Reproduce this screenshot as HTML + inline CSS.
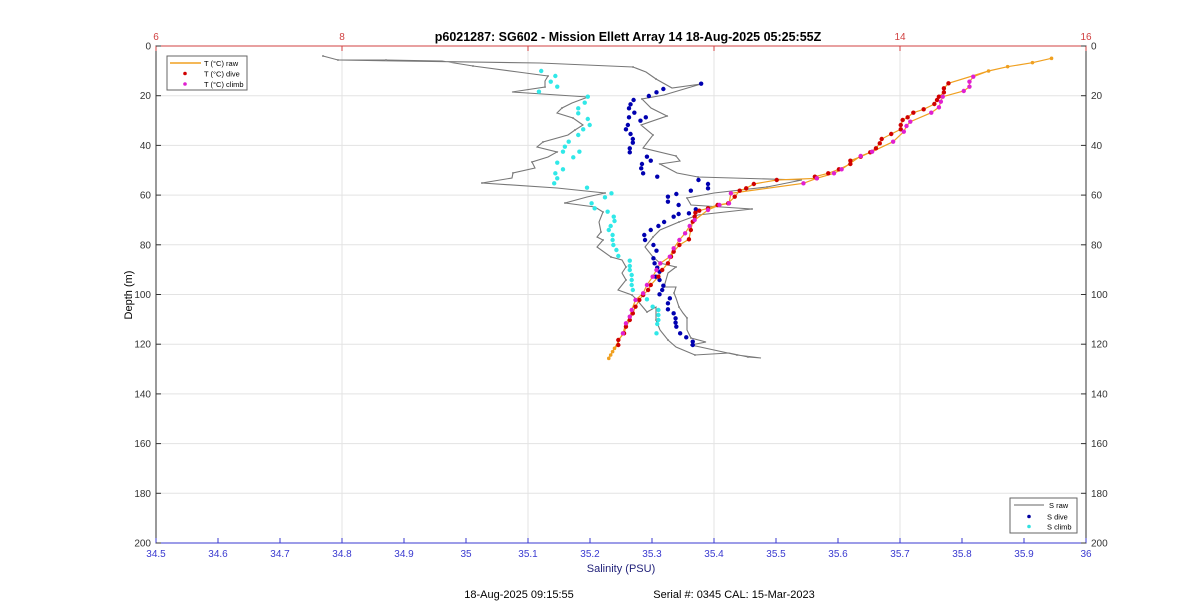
<!DOCTYPE html>
<html><head><meta charset="utf-8"><style>
html,body{margin:0;padding:0;background:#fff;}
svg text{font-family:"Liberation Sans",Arial,sans-serif;}
</style></head><body>
<svg id="s" width="1200" height="611" xmlns="http://www.w3.org/2000/svg">
<rect width="1200" height="611" fill="#fff"/>
<g id="grid" stroke="#e3e3e3" stroke-width="1"></g>
<g id="data"></g>
<rect x="156" y="46" width="930" height="497" fill="none" stroke="#333" stroke-width="1"/>
<line x1="156" y1="46" x2="1086" y2="46" stroke="#d04040" stroke-width="1"/>
<line x1="156" y1="543" x2="1086" y2="543" stroke="#3a3ad0" stroke-width="1"/>
<g id="ticks" font-size="10"></g>
<text x="628" y="41" font-size="12.5" font-weight="bold" text-anchor="middle">p6021287: SG602 - Mission Ellett Array 14 18-Aug-2025 05:25:55Z</text>
<text x="621" y="572" font-size="11" text-anchor="middle" fill="#22227a">Salinity (PSU)</text>
<text transform="translate(132,295) rotate(-90)" font-size="11" text-anchor="middle">Depth (m)</text>
<text x="519" y="598" font-size="11" text-anchor="middle">18-Aug-2025 09:15:55</text>
<text x="734" y="598" font-size="11" text-anchor="middle">Serial #: 0345  CAL: 15-Mar-2023</text>
<g font-size="7.5">
<rect x="167" y="56" width="80" height="34" fill="#fff" stroke="#666"/>
<line x1="170" y1="63" x2="201" y2="63" stroke="#f0a020" stroke-width="1.5"/>
<text x="204" y="66">T (°C) raw</text>
<circle cx="185" cy="73.5" r="1.8" fill="#d00000"/><text x="204" y="76.5">T (°C) dive</text>
<circle cx="185" cy="84" r="1.8" fill="#e020d0"/><text x="204" y="87">T (°C) climb</text>
<rect x="1010" y="498" width="67" height="35" fill="#fff" stroke="#666"/>
<line x1="1014" y1="505" x2="1044" y2="505" stroke="#666" stroke-width="1"/>
<text x="1049" y="508">S raw</text>
<circle cx="1029" cy="516.5" r="1.8" fill="#0000a0"/><text x="1047" y="519.5">S dive</text>
<circle cx="1029" cy="526.5" r="1.8" fill="#30e0e0"/><text x="1047" y="529.5">S climb</text>
</g>
</svg>
<script>
(function(){
var NS="http://www.w3.org/2000/svg";
function el(p,t,a,txt){var e=document.createElementNS(NS,t);for(var k in a)e.setAttribute(k,a[k]);if(txt!==undefined)e.textContent=txt;document.getElementById(p).appendChild(e);return e;}
[342,528,714,900].forEach(function(x){el("grid","line",{x1:x,y1:46,x2:x,y2:543});});
for(var d=20;d<200;d+=20){var y=46+d*2.485;el("grid","line",{x1:156,y1:y,x2:1086,y2:y});}
for(var i=0;i<=15;i++){var x=156+i*62;var v=(34.5+i*0.1);var s=(Math.round(v*10)/10).toString();
 el("ticks","line",{x1:x,y1:543,x2:x,y2:538,stroke:"#3a3ad0"});
 el("ticks","text",{x:x,y:557,"text-anchor":"middle",fill:"#3a3ad0"},s);}
[6,8,10,12,14,16].forEach(function(t){var x=156+(t-6)*93;el("ticks","line",{x1:x,y1:46,x2:x,y2:51,stroke:"#d04040"});
 if(t!=10&&t!=12)el("ticks","text",{x:x,y:40,"text-anchor":"middle",fill:"#d04040"},t);});
for(var d=0;d<=200;d+=20){var y=46+d*2.485;
 el("ticks","line",{x1:156,y1:y,x2:161,y2:y,stroke:"#333"});el("ticks","line",{x1:1081,y1:y,x2:1086,y2:y,stroke:"#333"});
 el("ticks","text",{x:151,y:y+3.5,"text-anchor":"end",fill:"#333"},d);
 el("ticks","text",{x:1091,y:y+3.5,fill:"#333"},d);}
function z(p){return [500+p[0]/2.62,40+p[1]/3];}
function pts(a){return a.map(function(p){return p[0].toFixed(1)+","+p[1].toFixed(1);}).join(" ");}
var sraw=[[323,56],[338,60],[386,60],[442,61],[473,66],[518,72],[548,76],[545,81],[545,87],[512,92],[588,97],[572,103],[562,108],[557,113],[573,118],[583,125],[575,130],[568,135],[543,142],[537,147],[557,152],[548,157],[532,162],[535,168],[513,173],[512,178],[482,183],[557,188],[605,193],[587,197],[565,203],[595,207],[603,212],[599,222],[601,232],[597,237],[603,240],[597,247],[611,257],[622,260],[626,267],[622,273],[626,280],[618,290],[632,295],[637,300],[647,312],[656,307],[656,320],[660,330],[668,340],[676,347],[695,355],[729,353],[748,357],[761,358],[737,355],[714,350],[691,345],[706,342],[691,338],[687,330],[687,318],[683,313],[679,307],[676,298],[674,293],[676,287],[664,287],[668,273],[676,267],[660,263],[653,257],[645,247],[653,237],[660,230],[679,222],[698,215],[752,209],[691,205],[687,198],[714,193],[767,187],[802,180],[698,177],[677,173],[660,164],[680,161],[676,156],[643,148],[653,135],[641,125],[667,116],[651,108],[642,99],[664,95],[701,84],[672,88],[656,79],[646,72],[633,67],[540,63],[338,60]];
el("data","polyline",{points:pts(sraw),fill:"none",stroke:"#777",'stroke-width':1.1});
sraw.forEach(function(p,i){if(i%2==0)el("data","circle",{cx:p[0],cy:p[1],r:1,fill:"#888"});});
var cyan=[[108,93],[145,108],[133,125],[150,140],[102,155],[230,170],[222,188],[205,205],[205,220],[230,237],[235,255],[218,268],[205,285],[180,305],[170,320],[165,335],[208,335],[192,352],[150,368],[165,388],[145,400],[150,415],[142,430],[228,443],[292,460],[275,472],[240,490],[248,505],[282,515],[298,530],[300,543],[290,558],[285,570],[295,585],[295,600],[297,615],[305,630],[310,648],[340,662],[340,678],[340,690],[345,705],[345,720],[345,735],[348,750],[375,765],[385,778],[400,800],[415,810],[415,825],[415,840],[412,852],[410,880]].map(z);
var blue=[[527,131],[428,147],[410,157],[390,168],[350,180],[342,193],[338,205],[352,218],[338,232],[382,232],[368,242],[335,255],[330,268],[342,282],[348,297],[348,308],[340,325],[340,337],[385,350],[395,362],[372,372],[370,385],[375,400],[412,410],[520,420],[545,432],[545,445],[500,452],[462,462],[440,470],[440,485],[468,495],[468,522],[513,508],[495,520],[455,530],[430,546],[415,558],[395,570],[378,585],[380,600],[402,615],[410,632],[402,655],[405,670],[412,683],[418,695],[408,710],[418,720],[428,737],[425,750],[418,763],[445,775],[440,790],[440,808],[455,820],[460,835],[460,848],[462,860],[472,880],[488,892],[505,905],[505,915]].map(z);
var red=[[1175,130],[1163,145],[1163,157],[1150,170],[1145,180],[1138,192],[1110,208],[1083,218],[1068,232],[1055,240],[1050,255],[1050,268],[1025,282],[1000,297],[995,310],[985,325],[970,337],[945,350],[918,362],[918,372],[888,388],[860,400],[825,410],[830,415],[725,420],[665,432],[645,445],[628,452],[615,470],[598,490],[570,495],[545,505],[522,512],[512,518],[510,530],[505,545],[500,570],[495,598],[470,615],[455,635],[448,650],[440,670],[425,690],[415,710],[395,735],[388,750],[375,765],[365,780],[355,800],[348,820],[340,840],[330,860],[325,880],[310,900],[310,915]].map(z);
var mag=[[1240,110],[1230,125],[1230,140],[1215,153],[1160,170],[1155,185],[1150,202],[1130,218],[1075,245],[1065,258],[1058,275],[1030,305],[975,335],[945,348],[895,388],[875,400],[830,415],[795,430],[605,460],[600,490],[575,495],[545,510],[510,540],[497,558],[485,580],[470,600],[455,625],[445,650],[420,670],[410,690],[400,710],[385,735],[375,760],[355,780],[345,810],[340,830],[330,850],[322,880]].map(z);
var topPts=[[1445,55],[1395,68],[1330,80],[1280,93]].map(z);
var botPts=[[300,925],[295,935],[290,945],[285,955]].map(z);
var tline=topPts.concat(red).concat(botPts).concat(mag.slice().reverse()).concat([z([1280,93])]);
el("data","polyline",{points:pts(tline),fill:"none",stroke:"#f0a020",'stroke-width':1.2});
topPts.concat(botPts).forEach(function(p){el("data","circle",{cx:p[0],cy:p[1],r:1.8,fill:"#f0a020"});});
cyan.forEach(function(p){el("data","circle",{cx:p[0],cy:p[1],r:2.2,fill:"#30e8e8"});});
blue.forEach(function(p){el("data","circle",{cx:p[0],cy:p[1],r:2.2,fill:"#0000b0"});});
red.forEach(function(p){el("data","circle",{cx:p[0],cy:p[1],r:2.2,fill:"#d00000"});});
mag.forEach(function(p){el("data","circle",{cx:p[0],cy:p[1],r:2.2,fill:"#e020d0"});});
})();
</script>
</body></html>
